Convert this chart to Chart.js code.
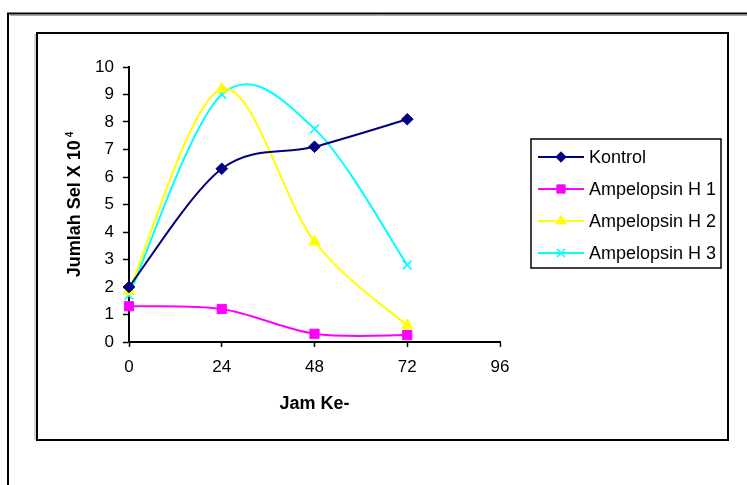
<!DOCTYPE html>
<html>
<head>
<meta charset="utf-8">
<script src="https://cdn.jsdelivr.net/npm/chart.js@4/dist/chart.umd.min.js"></script>
<style>
  html, body { margin: 0; padding: 0; background: #ffffff; }
  #wrap { width: 747px; height: 485px; position: relative; }
</style>
</head>
<body>
<div id="wrap"><canvas id="c" width="747" height="485"></canvas></div>
<script>
// Cell counts (x 10^4) per observation hour
const hours = [0, 24, 48, 72];
const kontrol = [2.0, 6.3, 7.1, 8.1];
const ampelopsinH1 = [1.3, 1.2, 0.3, 0.25];
const ampelopsinH2 = [1.85, 9.2, 3.65, 0.6];
const ampelopsinH3 = [1.7, 9.0, 7.75, 2.8];

const seriesNames = ['Kontrol', 'Ampelopsin H 1', 'Ampelopsin H 2', 'Ampelopsin H 3'];
const xTickValues = [0, 24, 48, 72, 96];
const yTickValues = [0, 1, 2, 3, 4, 5, 6, 7, 8, 9, 10];
const xTitle = 'Jam Ke-';
const yTitleMain = 'Jumlah Sel X 10';
const yTitleSup = '4';

const FONT = '"Liberation Sans", Arial, Helvetica, sans-serif';
Chart.defaults.font.family = FONT;
Chart.defaults.color = '#000000';

function toPoints(values) {
  return hours.map((h, i) => ({ x: h, y: values[i] }));
}

function series(label, values, color, style, radius, extra) {
  return Object.assign({
    label: label,
    data: toPoints(values),
    borderColor: color,
    backgroundColor: color,
    pointBackgroundColor: color,
    pointBorderColor: color,
    pointStyle: style,
    pointRadius: radius,
    pointHoverRadius: radius,
    pointBorderWidth: 1,
    borderWidth: 2,
    tension: 0.4,
    fill: false,
    clip: false
  }, extra || {});
}

// Smooth curve through the points: Catmull-Rom style control points (1/6 of the
// neighbour span), the classic spreadsheet "smoothed line".
const smoothLine = {
  id: 'smoothLine',
  beforeDatasetDraw(chart, args) {
    const meta = args.meta;
    const line = meta.dataset;
    const pts = meta.data;
    if (!line || !pts.length) return;
    line.updateControlPoints(chart.chartArea, meta.indexAxis);
    const n = pts.length;
    for (let i = 0; i < n; i++) {
      const p = pts[i];
      const a = pts[Math.max(i - 1, 0)];
      const b = pts[Math.min(i + 1, n - 1)];
      const dx = (b.x - a.x) / 6;
      const dy = (b.y - a.y) / 6;
      p.cp1x = p.x - dx; p.cp1y = p.y - dy;
      p.cp2x = p.x + dx; p.cp2y = p.y + dy;
    }
    line._path = undefined;
  }
};

function drawMarker(ctx, ds, x, y, radius) {
  ctx.save();
  ctx.fillStyle = ds.pointBackgroundColor;
  ctx.strokeStyle = ds.pointBorderColor;
  ctx.lineWidth = ds.pointBorderWidth;
  if (Chart.helpers && Chart.helpers.drawPoint) {
    Chart.helpers.drawPoint(ctx, {
      pointStyle: ds.pointStyle,
      radius: radius,
      rotation: 0,
      borderWidth: ds.pointBorderWidth
    }, x, y);
  }
  ctx.restore();
}

// Frames, axis titles and the boxed legend
const decorations = {
  id: 'decorations',
  beforeDraw(chart) {
    const ctx = chart.ctx;
    ctx.save();
    ctx.fillStyle = '#ffffff';
    ctx.fillRect(0, 0, chart.width, chart.height);
    // outer page frame
    ctx.strokeStyle = '#aaaaaa';
    ctx.lineWidth = 1;
    ctx.beginPath();
    ctx.moveTo(10, 15.5); ctx.lineTo(chart.width, 15.5);
    ctx.stroke();
    ctx.strokeStyle = '#000000';
    ctx.lineWidth = 2;
    ctx.beginPath();
    ctx.moveTo(8, chart.height); ctx.lineTo(8, 13.5); ctx.lineTo(chart.width, 13.5);
    ctx.stroke();
    // chart box
    ctx.strokeStyle = '#aaaaaa';
    ctx.lineWidth = 1;
    ctx.beginPath();
    ctx.moveTo(35, 34); ctx.lineTo(35, 440);
    ctx.stroke();
    ctx.strokeStyle = '#000000';
    ctx.lineWidth = 2;
    ctx.strokeRect(37, 33, 691, 407);
    ctx.restore();
  },
  afterDraw(chart) {
    const ctx = chart.ctx;
    const area = chart.chartArea;
    ctx.save();
    ctx.fillStyle = '#000000';

    // x-axis title
    ctx.font = 'bold 18px ' + FONT;
    ctx.textAlign = 'center';
    ctx.textBaseline = 'alphabetic';
    ctx.fillText(xTitle, (area.left + area.right) / 2, 409);

    // y-axis title with superscript exponent
    const mainFont = 'bold 18px ' + FONT;
    const supFont = 'bold 10px ' + FONT;
    ctx.font = mainFont;
    const wMain = ctx.measureText(yTitleMain).width;
    ctx.font = supFont;
    const wSup = ctx.measureText(yTitleSup).width;
    const total = wMain + 3 + wSup;
    const cy = (area.top + area.bottom) / 2;
    ctx.translate(80, cy + total / 2);
    ctx.rotate(-Math.PI / 2);
    ctx.textAlign = 'left';
    ctx.font = mainFont;
    ctx.fillText(yTitleMain, 0, 0);
    ctx.font = supFont;
    ctx.fillText(yTitleSup, wMain + 3, -7);
    ctx.setTransform(1, 0, 0, 1, 0, 0);

    // legend box
    const lx = 531, ly = 139, lw = 190, lh = 129;
    ctx.strokeStyle = '#000000';
    ctx.lineWidth = 1.5;
    ctx.strokeRect(lx, ly, lw, lh);
    ctx.font = '18px ' + FONT;
    ctx.textAlign = 'left';
    ctx.textBaseline = 'middle';
    chart.data.datasets.forEach((ds, i) => {
      const y = ly + 18 + i * 32;
      ctx.strokeStyle = ds.borderColor;
      ctx.lineWidth = 2;
      ctx.beginPath();
      ctx.moveTo(lx + 7, y); ctx.lineTo(lx + 53, y);
      ctx.stroke();
      drawMarker(ctx, ds, lx + 30, y, ds.pointRadius * 0.9);
      ctx.fillStyle = '#000000';
      ctx.fillText(ds.label, lx + 58, y + 1);
    });
    ctx.restore();
  }
};

new Chart(document.getElementById('c'), {
  type: 'line',
  data: {
    datasets: [
      series(seriesNames[0], kontrol, '#000080', 'rectRot', 5.8),
      series(seriesNames[1], ampelopsinH1, '#ff00ff', 'rect', 6.5),
      series(seriesNames[2], ampelopsinH2, '#ffff00', 'triangle', 6.5),
      series(seriesNames[3], ampelopsinH3, '#00ffff', 'crossRot', 6.2, { pointBorderWidth: 1.6 })
    ]
  },
  options: {
    responsive: false,
    devicePixelRatio: 1,
    animation: false,
    events: [],
    layout: { padding: { left: 0, top: 67, right: 247, bottom: 0 } },
    plugins: {
      legend: { display: false },
      tooltip: { enabled: false },
      title: { display: false }
    },
    scales: {
      x: {
        type: 'linear',
        min: 0,
        max: 96,
        afterBuildTicks(scale) { scale.ticks = xTickValues.map(v => ({ value: v })); },
        afterFit(scale) { scale.height = 143; },
        grid: { drawOnChartArea: false, drawTicks: true, tickLength: 5, color: '#000000', tickWidth: 1.5 },
        border: { display: true, color: '#000000', width: 2 },
        ticks: { font: { size: 17 }, color: '#000000', padding: 10, maxRotation: 0 }
      },
      y: {
        type: 'linear',
        min: 0,
        max: 10,
        afterBuildTicks(scale) { scale.ticks = yTickValues.map(v => ({ value: v })); },
        afterFit(scale) { scale.width = 129; },
        grid: { drawOnChartArea: false, drawTicks: true, tickLength: 6, color: '#000000', tickWidth: 1.5 },
        border: { display: true, color: '#000000', width: 2 },
        ticks: { font: { size: 17 }, color: '#000000', padding: 9 }
      }
    }
  },
  plugins: [smoothLine, decorations]
});
</script>
</body>
</html>
